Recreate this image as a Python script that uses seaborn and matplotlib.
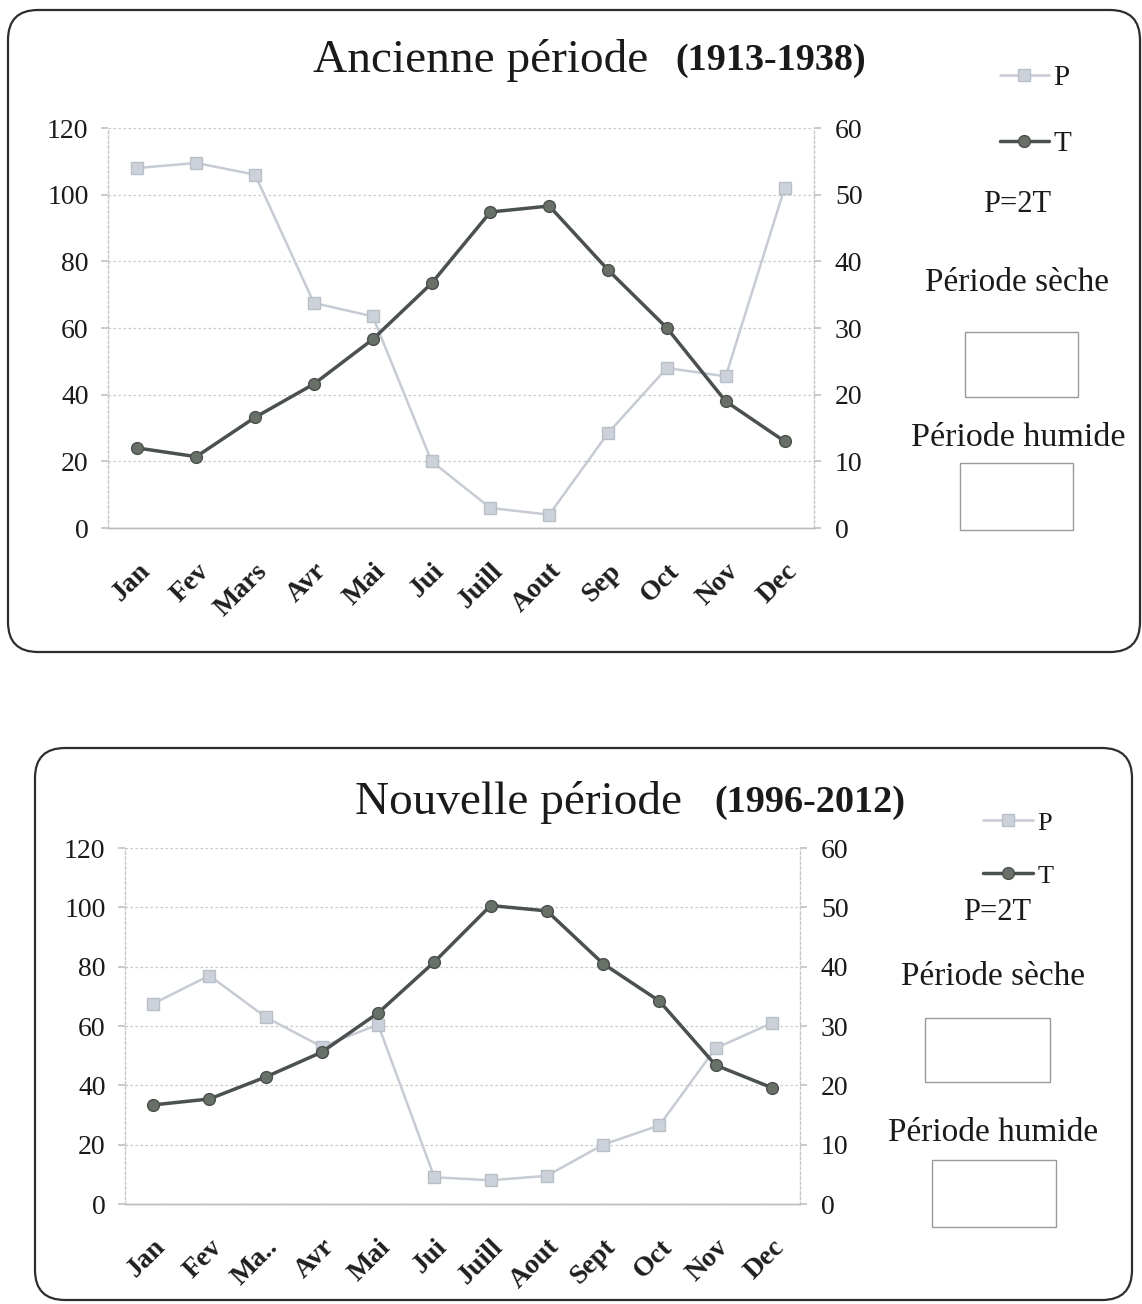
import matplotlib
matplotlib.use("Agg")
import matplotlib.pyplot as plt
import seaborn as sns
import pandas as pd
import numpy as np
from matplotlib.patches import FancyBboxPatch, Rectangle

sns.set_theme(style="white")
plt.rcParams["font.family"] = ["Liberation Serif", "DejaVu Serif"]

# Données climatiques : précipitations P (mm) et températures T (°C)
mois_ancien = ["Jan", "Fev", "Mars", "Avr", "Mai", "Jui", "Juill", "Aout", "Sep", "Oct", "Nov", "Dec"]
P_ancien = [108, 109.5, 106, 67.5, 63.5, 20, 6, 4, 28.5, 48, 45.5, 102]
T_ancien = [12, 10.7, 16.6, 21.6, 28.3, 36.7, 47.4, 48.3, 38.7, 30, 19, 13]

mois_nouveau = ["Jan", "Fev", "Ma..", "Avr", "Mai", "Jui", "Juill", "Aout", "Sept", "Oct", "Nov", "Dec"]
P_nouveau = [67.5, 77, 63, 53, 60.5, 9, 8, 9.5, 20, 26.5, 52.5, 61]
T_nouveau = [16.7, 17.7, 21.4, 25.6, 32.2, 40.8, 50.3, 49.4, 40.5, 34.2, 23.4, 19.6]

P_ticks = [0, 20, 40, 60, 80, 100, 120]
T_ticks = [0, 10, 20, 30, 40, 50, 60]

W, H = 1142, 1304
fig = plt.figure(figsize=(W / 100, H / 100), dpi=100)
fig.patch.set_facecolor("white")

COL_P = "#c6cbd4"
COL_P_MK = "#cdd2da"
COL_T = "#4b514f"
COL_T_MK = "#687068"
GRID = "#c9c9c9"


def fx(x):
    return x / W


def fy(y):
    return 1 - y / H


def cadre(x0, y0, x1, y1):
    box = FancyBboxPatch((x0 / 100, (H - y1) / 100), (x1 - x0) / 100, (y1 - y0) / 100,
                         boxstyle="round,pad=0,rounding_size=0.3",
                         transform=fig.dpi_scale_trans, fill=False,
                         edgecolor="#2e2e2e", linewidth=1.6)
    fig.add_artist(box)


def rect_fig(x0, y0, x1, y1):
    r = Rectangle((fx(x0), fy(y1)), fx(x1) - fx(x0), fy(y0) - fy(y1),
                  transform=fig.transFigure, fill=False, edgecolor="#9a9a9a", linewidth=1.0)
    fig.add_artist(r)


def panneau(box_px, mois, P, T, titre, annees, titre_px, leg, textes):
    x0, y0, x1, y1 = box_px
    ax = fig.add_axes([fx(x0), fy(y1), fx(x1) - fx(x0), fy(y0) - fy(y1)])
    df = pd.DataFrame({"mois": mois, "P": P, "T": T, "pos": np.arange(len(mois))})

    sns.lineplot(data=df, x="pos", y="P", ax=ax, color=COL_P, linewidth=1.8,
                 marker="s", markersize=9, markerfacecolor=COL_P_MK,
                 markeredgecolor="#b9bfc9", markeredgewidth=1, label="P", legend=False)
    ax2 = ax.twinx()
    sns.lineplot(data=df, x="pos", y="T", ax=ax2, color=COL_T, linewidth=2.5,
                 marker="o", markersize=8.5, markerfacecolor=COL_T_MK,
                 markeredgecolor="#4a504c", markeredgewidth=1, label="T", legend=False)

    ax.set_xlim(-0.5, len(mois) - 0.5)
    ax.set_ylim(0, 120)
    ax2.set_ylim(0, 60)
    ax.set_yticks(P_ticks)
    ax2.set_yticks(T_ticks)
    ax.set_xticks(np.arange(len(mois)))
    ax.set_xticklabels(mois, rotation=45, ha="right", rotation_mode="anchor",
                       fontsize=20, fontweight="bold", color="#1e1e1e")
    ax.set_xticks(np.arange(-0.5, len(mois), 1), minor=True)
    ax.set_xlabel("")
    ax.set_ylabel("")
    ax2.set_ylabel("")

    ax.grid(axis="y", color=GRID, linestyle=(0, (2, 2)), linewidth=0.9)
    ax.grid(axis="x", visible=False)
    for a in (ax, ax2):
        a.spines["top"].set_visible(False)
        a.spines["left"].set_color(GRID)
        a.spines["left"].set_linestyle((0, (2, 2)))
        a.spines["right"].set_color(GRID)
        a.spines["right"].set_linestyle((0, (2, 2)))
        a.spines["bottom"].set_color("#bdbdbd")
        a.spines["left"].set_linewidth(0.9)
        a.spines["right"].set_linewidth(0.9)
        a.spines["bottom"].set_linewidth(1.0)

    ax.tick_params(axis="x", which="major", length=0, pad=22)
    ax.tick_params(axis="x", which="minor", length=6, color="#bdbdbd", direction="out")
    ax.tick_params(axis="y", length=5, color="#c4c4c4", pad=9, labelsize=20,
                   labelcolor="#1a1a1a", left=True)
    ax2.tick_params(axis="y", length=5, color="#c4c4c4", pad=10, labelsize=20,
                    labelcolor="#1a1a1a", right=True)

    # Titre en deux parties
    tx0, tx1, ty = titre_px
    fig.text(fx(tx0), fy(ty), titre, ha="left", va="center", fontsize=34, color="#1a1a1a")
    fig.text(fx(tx1), fy(ty), annees, ha="right", va="center", fontsize=27.5,
             fontweight="bold", color="#1a1a1a")

    # Légende des courbes
    h1 = ax.get_lines()[0]
    h2 = ax2.get_lines()[0]
    lx, ly, lsp, fs, hl = leg
    fig.legend([h1, h2], ["P", "T"], loc="upper left",
               bbox_to_anchor=(fx(lx), fy(ly)), frameon=False, fontsize=fs,
               handlelength=hl, handletextpad=0.15, labelspacing=lsp,
               borderpad=0, labelcolor="#1a1a1a")

    for (t, cx, cy, s) in textes["txt"]:
        fig.text(fx(cx), fy(cy), t, ha="center", va="center", fontsize=s, color="#1a1a1a")
    for r in textes["rect"]:
        rect_fig(*r)
    return ax, ax2


cadre(8, 10, 1140, 652)
panneau((108, 128, 814, 528), mois_ancien, P_ancien, T_ancien,
        "Ancienne période", "(1913-1938)", (313, 866, 60),
        (985, 50, 1.35, 21, 1.7),
        {"txt": [("P=2T", 1017, 205, 22), ("Période sèche", 1017, 283, 24),
                 ("Période humide", 1018, 438, 24.5)],
         "rect": [(965, 332, 1078, 397), (960, 463, 1073, 530)]})

cadre(35, 748, 1132, 1300)
panneau((125, 848, 800, 1204), mois_nouveau, P_nouveau, T_nouveau,
        "Nouvelle période", "(1996-2012)", (355, 905, 803),
        (970, 798, 1.12, 19, 1.9),
        {"txt": [("P=2T", 997, 912, 22), ("Période sèche", 993, 977, 24),
                 ("Période humide", 993, 1133, 24)],
         "rect": [(925, 1018, 1050, 1082), (932, 1160, 1056, 1227)]})

fig.savefig("out.png", dpi=100, facecolor="white")
